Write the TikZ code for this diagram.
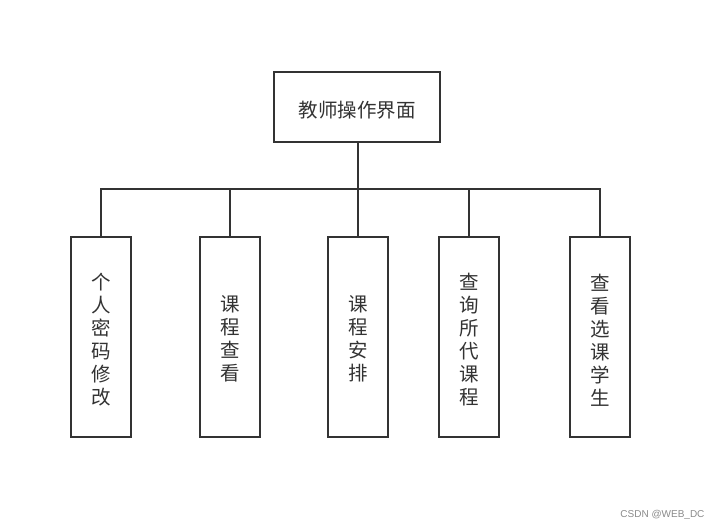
\documentclass[tikz,border=0pt]{standalone}
\usepackage{fontspec}
\setmainfont{Liberation Sans}
\newfontfamily\cjk{Noto Sans CJK SC}
\definecolor{ln}{HTML}{333333}
\definecolor{wm}{HTML}{8A8A8A}
\begin{document}
\begin{tikzpicture}[x=1pt,y=-1pt,
  box/.style={draw=ln,line width=2pt,fill=white,inner sep=0pt,minimum width=60pt,minimum height=200pt},
  lbl/.style={inner sep=0pt,font=\cjk\fontsize{19.5}{23}\selectfont,text=ln,align=center},
  con/.style={draw=ln,line width=2pt}]
\useasboundingbox (0,0) rectangle (722,530);
\node[box,minimum width=166pt,minimum height=70pt] (top) at (357,107) {};
\node[box] (b1) at (101,337) {};
\node[box] (b2) at (230,337) {};
\node[box] (b3) at (358,337) {};
\node[box] (b4) at (469,337) {};
\node[box] (b5) at (600,337) {};
\node[lbl] (t0) at ([yshift=-3pt]top.center) {教师操作界面};
\node[lbl] (t1) at ([yshift=-3pt]b1.center) {个\\人\\密\\码\\修\\改};
\node[lbl] (t2) at ([yshift=-2pt]b2.center) {课\\程\\查\\看};
\node[lbl] (t3) at ([yshift=-2pt]b3.center) {课\\程\\安\\排};
\node[lbl] (t4) at ([yshift=-3pt]b4.center) {查\\询\\所\\代\\课\\程};
\node[lbl] (t5) at ([yshift=-3pt]b5.center) {查\\看\\选\\课\\学\\生};
\coordinate (bar) at (358,189);
\draw[con] (top.south -| bar) -- (bar);
\draw[con] (b1.north) -- (b1.north |- bar);
\draw[con] (b2.north) -- (b2.north |- bar);
\draw[con] (b3.north) -- (b3.north |- bar);
\draw[con] (b4.north) -- (b4.north |- bar);
\draw[con] (b5.north) -- (b5.north |- bar);
\draw[con,line cap=rect] (b1.north |- bar) -- (b5.north |- bar);
\node[font=\fontsize{10}{12}\selectfont,text=wm,anchor=east] (wmk) at (708,515) {CSDN @WEB\_DC};
\end{tikzpicture}
\end{document}
